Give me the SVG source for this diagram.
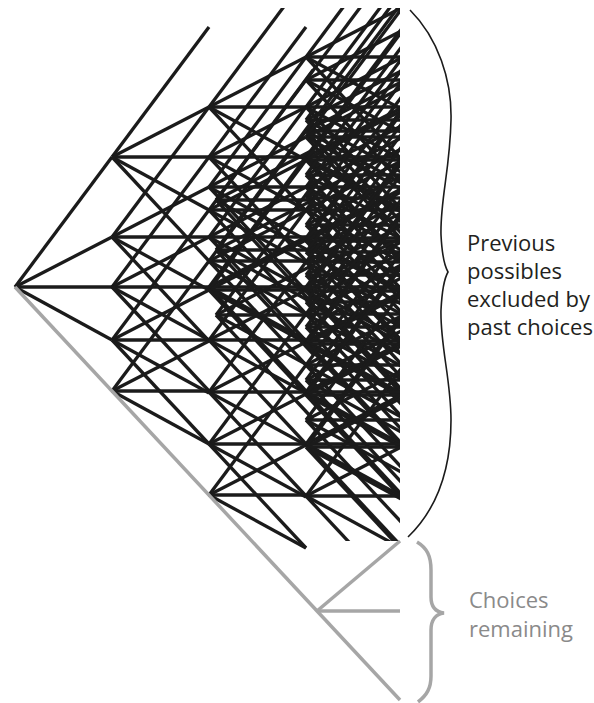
<svg xmlns="http://www.w3.org/2000/svg" width="594" height="703" viewBox="0 0 594 703">
  <style>
    .label { font-family: "Open Sans", "Liberation Sans", sans-serif; font-size: 22px; }
    .dark { fill: #231f20; }
    .soft { fill: #8a8a8a; }
  </style>
  <defs>
    <!-- one branching step: four rays to the next column -->
    <g id="fan4" stroke="#1b1b1b" stroke-width="3.3" fill="none">
      <line x1="0" y1="0" x2="97" y2="-130"/>
      <line x1="0" y1="0" x2="97" y2="-50"/>
      <line x1="0" y1="0" x2="97" y2="0"/>
      <line x1="0" y1="0" x2="97" y2="53"/>
    </g>
    <!-- full step: adds the steep downward ray -->
    <g id="fan">
      <use href="#fan4"/>
      <line x1="0" y1="0" x2="97" y2="104" stroke="#1b1b1b" stroke-width="3.3"/>
    </g>
    <clipPath id="latticeClip">
      <polygon points="0,8 400,8 400,541 318,541 318,703 0,703"/>
    </clipPath>
  </defs>

  <rect width="594" height="703" fill="#ffffff"/>

  <!-- lattice of past possibilities -->
  <g id="lattice" clip-path="url(#latticeClip)">
    <g id="node-root"><use href="#fan4" x="15" y="287"/></g>
    <g id="column-1">
      <use href="#fan" x="112" y="157"/>
      <use href="#fan" x="112" y="237"/>
      <use href="#fan" x="112" y="287"/>
      <use href="#fan" x="112" y="340"/>
      <use href="#fan4" x="112" y="391"/>
    </g>
    <g id="column-2">
      <use href="#fan" x="209" y="107"/>
      <use href="#fan" x="209" y="157"/>
      <use href="#fan" x="209" y="187"/>
      <use href="#fan" x="209" y="210"/>
      <use href="#fan" x="209" y="237"/>
      <use href="#fan" x="209" y="261"/>
      <use href="#fan" x="209" y="287"/>
      <use href="#fan" x="209" y="290"/>
      <use href="#fan" x="209" y="340"/>
      <use href="#fan" x="209" y="392"/>
      <use href="#fan" x="209" y="444"/>
      <use href="#fan4" x="209" y="495"/>
      <use href="#fan" x="216" y="200"/>
      <use href="#fan" x="216" y="250"/>
      <use href="#fan" x="216" y="315"/>
    </g>
    <g id="column-3">
      <use href="#fan" x="306" y="57"/>
      <use href="#fan" x="306" y="80"/>
      <use href="#fan" x="306" y="107"/>
      <use href="#fan" x="306" y="120"/>
      <use href="#fan" x="306" y="131"/>
      <use href="#fan" x="306" y="137"/>
      <use href="#fan" x="306" y="157"/>
      <use href="#fan" x="306" y="160"/>
      <use href="#fan" x="306" y="175"/>
      <use href="#fan" x="306" y="187"/>
      <use href="#fan" x="306" y="198"/>
      <use href="#fan" x="306" y="210"/>
      <use href="#fan" x="306" y="225"/>
      <use href="#fan" x="306" y="238"/>
      <use href="#fan" x="306" y="241"/>
      <use href="#fan" x="306" y="252"/>
      <use href="#fan" x="306" y="262"/>
      <use href="#fan" x="306" y="275"/>
      <use href="#fan" x="306" y="287"/>
      <use href="#fan" x="306" y="291"/>
      <use href="#fan" x="306" y="302"/>
      <use href="#fan" x="306" y="314"/>
      <use href="#fan" x="306" y="327"/>
      <use href="#fan" x="306" y="341"/>
      <use href="#fan" x="306" y="344"/>
      <use href="#fan" x="306" y="365"/>
      <use href="#fan" x="306" y="380"/>
      <use href="#fan" x="306" y="392"/>
      <use href="#fan" x="306" y="395"/>
      <use href="#fan" x="306" y="420"/>
      <use href="#fan" x="306" y="444"/>
      <use href="#fan" x="306" y="447"/>
      <use href="#fan" x="306" y="496"/>
    </g>
  </g>

  <!-- the path actually taken and the choices still open -->
  <g id="edge" stroke="#a6a6a6" stroke-width="3.5" fill="none">
    <line x1="15" y1="287" x2="400" y2="700"/>
    <line x1="317" y1="611" x2="400" y2="541"/>
    <line x1="317" y1="611" x2="400" y2="611"/>
  </g>

  <!-- brace: excluded possibilities -->
  <g id="brace-past">
    <path d="M410,10 C438,38 452,80 451,120 C450,170 440,200 441,235 C442,255 444,265 448,272 C444,279 442,290 441,310 C440,345 451,380 451,420 C451,470 436,510 408,537" fill="none" stroke="#1b1b1b" stroke-width="1.6"/>
    <text class="label dark" x="467" y="251">Previous</text>
    <text class="label dark" x="467" y="279">possibles</text>
    <text class="label dark" x="467" y="307">excluded by</text>
    <text class="label dark" x="467" y="335">past choices</text>
  </g>

  <!-- brace: remaining choices -->
  <g id="brace-remaining">
    <path d="M417,542 C427,548 431,556 431,570 L431,597 C431,607 436,612 444,613 C436,614 431,620 431,630 L431,676 C431,688 427,695 418,702" fill="none" stroke="#a6a6a6" stroke-width="3.5"/>
    <text class="label soft" x="469" y="608">Choices</text>
    <text class="label soft" x="469" y="637">remaining</text>
  </g>
</svg>
